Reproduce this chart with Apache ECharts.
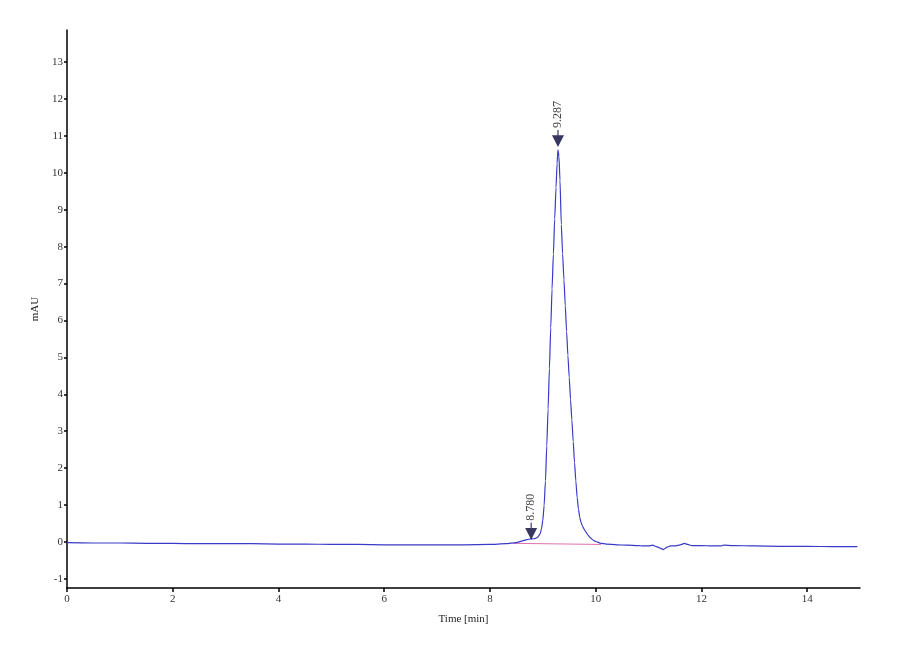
<!DOCTYPE html>
<html>
<head>
<meta charset="utf-8">
<script src="https://cdn.jsdelivr.net/npm/echarts@6/dist/echarts.min.js"></script>
<style>html,body{margin:0;padding:0;background:#fff}#c{width:900px;height:660px}</style>
</head>
<body>
<div id="c"></div>
<script>
const timeMin = [0,0.5,1,1.5,2,2.5,3,3.5,4,4.5,5,5.5,6,6.5,7,7.5,8.0,8.3,8.5,8.6,8.7,8.78,8.85,8.9,8.95,
  8.975,9.0,9.025,9.05,9.075,9.1,9.125,9.15,9.175,9.2,9.225,9.25,9.27,9.287,9.305,9.325,9.35,9.375,9.4,9.425,9.45,9.475,
  9.5,9.525,9.55,9.575,9.6,9.625,9.65,9.675,9.7,9.725,9.75,9.775,9.8,9.85,9.9,9.95,10.0,10.1,10.2,10.4,10.6,10.8,10.9,11.0,
  11.08,11.15,11.22,11.28,11.35,11.42,11.5,11.6,11.68,11.74,11.82,12.0,12.2,12.38,12.42,12.6,13.0,13.5,14.0,14.5,14.95];
const signalMAU = [-0.02,-0.03,-0.03,-0.04,-0.04,-0.05,-0.05,-0.05,-0.06,-0.06,-0.07,-0.07,-0.08,-0.08,-0.08,-0.08,-0.07,-0.05,-0.02,0.02,0.06,0.08,0.09,0.12,0.22,
  0.35,0.58,0.98,1.65,2.6,3.6,4.7,5.8,6.85,7.8,8.75,9.6,10.25,10.62,10.45,9.8,8.6,7.8,7.1,6.4,5.7,5.05,
  4.45,3.85,3.3,2.72,2.15,1.65,1.2,0.88,0.66,0.52,0.43,0.36,0.3,0.19,0.11,0.05,0.01,-0.04,-0.06,-0.08,-0.09,-0.1,-0.11,-0.11,
  -0.09,-0.13,-0.17,-0.21,-0.14,-0.11,-0.11,-0.08,-0.04,-0.07,-0.1,-0.1,-0.11,-0.11,-0.09,-0.1,-0.11,-0.12,-0.12,-0.13,-0.13];
const baselineTime = [8.45, 10.1];
const baselineValue = [-0.04, -0.07];
const peakTimes = [8.780, 9.287];
const peakHeights = [0.06, 10.7];
const xTicks = [0,2,4,6,8,10,12,14];
const yTicks = [-1,0,1,2,3,4,5,6,7,8,9,10,11,12,13];

const font = 'Liberation Serif';
const chart = echarts.init(document.getElementById('c'));
chart.setOption({
  backgroundColor: '#ffffff',
  animation: false,
  grid: {left: 67, right: 40, top: 30, bottom: 72},
  xAxis: {
    type: 'value', min: 0, max: 15,
    name: 'Time [min]', nameLocation: 'middle', nameGap: 26,
    nameTextStyle: {fontFamily: font, fontSize: 11, color: '#222'},
    axisLine: {show: true, onZero: false, lineStyle: {color: '#000', width: 1.5}},
    axisTick: {show: true, length: 4, customValues: xTicks, lineStyle: {color: '#000', width: 1.5}},
    axisLabel: {customValues: xTicks, fontFamily: font, fontSize: 11, color: '#333', margin: 6},
    splitLine: {show: false}
  },
  yAxis: {
    type: 'value', min: -1.25, max: 13.87,
    name: 'mAU', nameLocation: 'middle', nameGap: 24, nameRotate: 90,
    nameTextStyle: {fontFamily: font, fontSize: 11, color: '#222'},
    axisLine: {show: true, onZero: false, lineStyle: {color: '#000', width: 1.5}},
    axisTick: {show: true, length: 3, customValues: yTicks, lineStyle: {color: '#000', width: 1.5}},
    axisLabel: {customValues: yTicks, fontFamily: font, fontSize: 11, color: '#333', margin: 4},
    splitLine: {show: false}
  },
  series: [
    {
      type: 'line', name: 'baseline', symbol: 'none', silent: true,
      data: baselineTime.map((t, i) => [t, baselineValue[i]]),
      lineStyle: {color: '#e070b0', width: 1}, z: 1
    },
    {
      type: 'line', name: 'signal', symbol: 'none', smooth: 0.2, smoothMonotone: 'x',
      data: timeMin.map((t, i) => [t, signalMAU[i]]),
      lineStyle: {color: '#3a3ac8', width: 1.2}, z: 2
    },
    {
      type: 'scatter', name: 'peaks',
      data: peakTimes.map((t, i) => [t, peakHeights[i]]),
      symbol: 'path://M4.5,0 L5.5,0 L5.5,5 L10,5 L5,16 L0,5 L4.5,5 Z',
      symbolSize: [12, 17], symbolOffset: [0, '-50%'],
      itemStyle: {color: '#050538'},
      label: {
        show: true, position: 'top', distance: 2, rotate: 90,
        align: 'left', verticalAlign: 'middle',
        formatter: p => p.value[0].toFixed(3),
        fontFamily: font, fontSize: 12, color: '#111'
      }, z: 3
    }
  ]
});
</script>
</body>
</html>
